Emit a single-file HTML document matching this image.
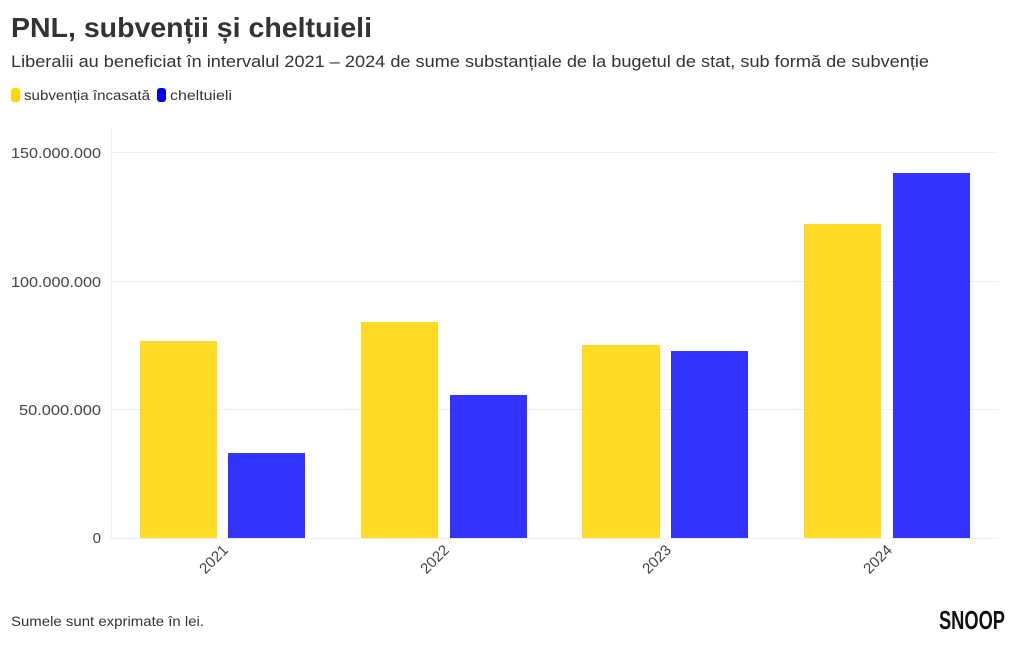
<!DOCTYPE html>
<html><head><meta charset="utf-8"><style>
body{margin:0;background:#fff;width:1020px;height:650px;overflow:hidden;font-family:"Liberation Sans",sans-serif;color:#333}
</style></head><body>
<svg width="1020" height="650" xmlns="http://www.w3.org/2000/svg" font-family="Liberation Sans, sans-serif">
<text x="11" y="37" font-size="28" font-weight="bold" fill="#333" textLength="361" lengthAdjust="spacingAndGlyphs">PNL, subvenții și cheltuieli</text>
<text x="11" y="67" font-size="17" fill="#333" textLength="918" lengthAdjust="spacingAndGlyphs">Liberalii au beneficiat în intervalul 2021 – 2024 de sume substanțiale de la bugetul de stat, sub formă de subvenție</text>
<rect x="11" y="88" width="9" height="14" rx="3" fill="#ffd500"/>
<text x="24" y="100" font-size="14" fill="#333" textLength="126" lengthAdjust="spacingAndGlyphs">subvenția încasată</text>
<rect x="157" y="88" width="9" height="14" rx="3" fill="#0000ee"/>
<text x="170" y="100" font-size="14" fill="#333" textLength="62" lengthAdjust="spacingAndGlyphs">cheltuieli</text>
<g stroke="#eee" stroke-width="1">
<line x1="111" y1="152.5" x2="998" y2="152.5"/>
<line x1="111" y1="281.5" x2="998" y2="281.5"/>
<line x1="111" y1="409.5" x2="998" y2="409.5"/>
<line x1="111" y1="538.5" x2="998" y2="538.5"/>
<line x1="111.5" y1="128" x2="111.5" y2="538"/>
</g>
<g font-size="15" fill="#444" text-anchor="end">
<text x="101" y="158" textLength="90" lengthAdjust="spacingAndGlyphs">150.000.000</text>
<text x="101" y="287" textLength="90" lengthAdjust="spacingAndGlyphs">100.000.000</text>
<text x="101" y="415" textLength="82" lengthAdjust="spacingAndGlyphs">50.000.000</text>
<text x="101" y="543">0</text>
</g>
<g fill="#ffd500" opacity="0.85">
<rect x="140" y="341" width="77" height="197"/>
<rect x="361" y="322" width="77" height="216"/>
<rect x="582" y="345" width="78" height="193"/>
<rect x="804" y="224" width="77" height="314"/>
</g>
<g fill="#0000ff" opacity="0.8">
<rect x="228" y="453" width="77" height="85"/>
<rect x="450" y="395" width="77" height="143"/>
<rect x="671" y="351" width="77" height="187"/>
<rect x="893" y="173" width="77" height="365"/>
</g>
<g font-size="15" fill="#444" text-anchor="end">
<text transform="translate(229,551) rotate(-45)">2021</text>
<text transform="translate(450,551) rotate(-45)">2022</text>
<text transform="translate(672,551) rotate(-45)">2023</text>
<text transform="translate(893,551) rotate(-45)">2024</text>
</g>
<text x="11" y="626" font-size="14" fill="#333" textLength="193" lengthAdjust="spacingAndGlyphs">Sumele sunt exprimate în lei.</text>
<text x="1005" y="629" font-size="26" font-weight="bold" fill="#111" text-anchor="end" textLength="66" lengthAdjust="spacingAndGlyphs">SNOOP</text>
</svg>
</body></html>
